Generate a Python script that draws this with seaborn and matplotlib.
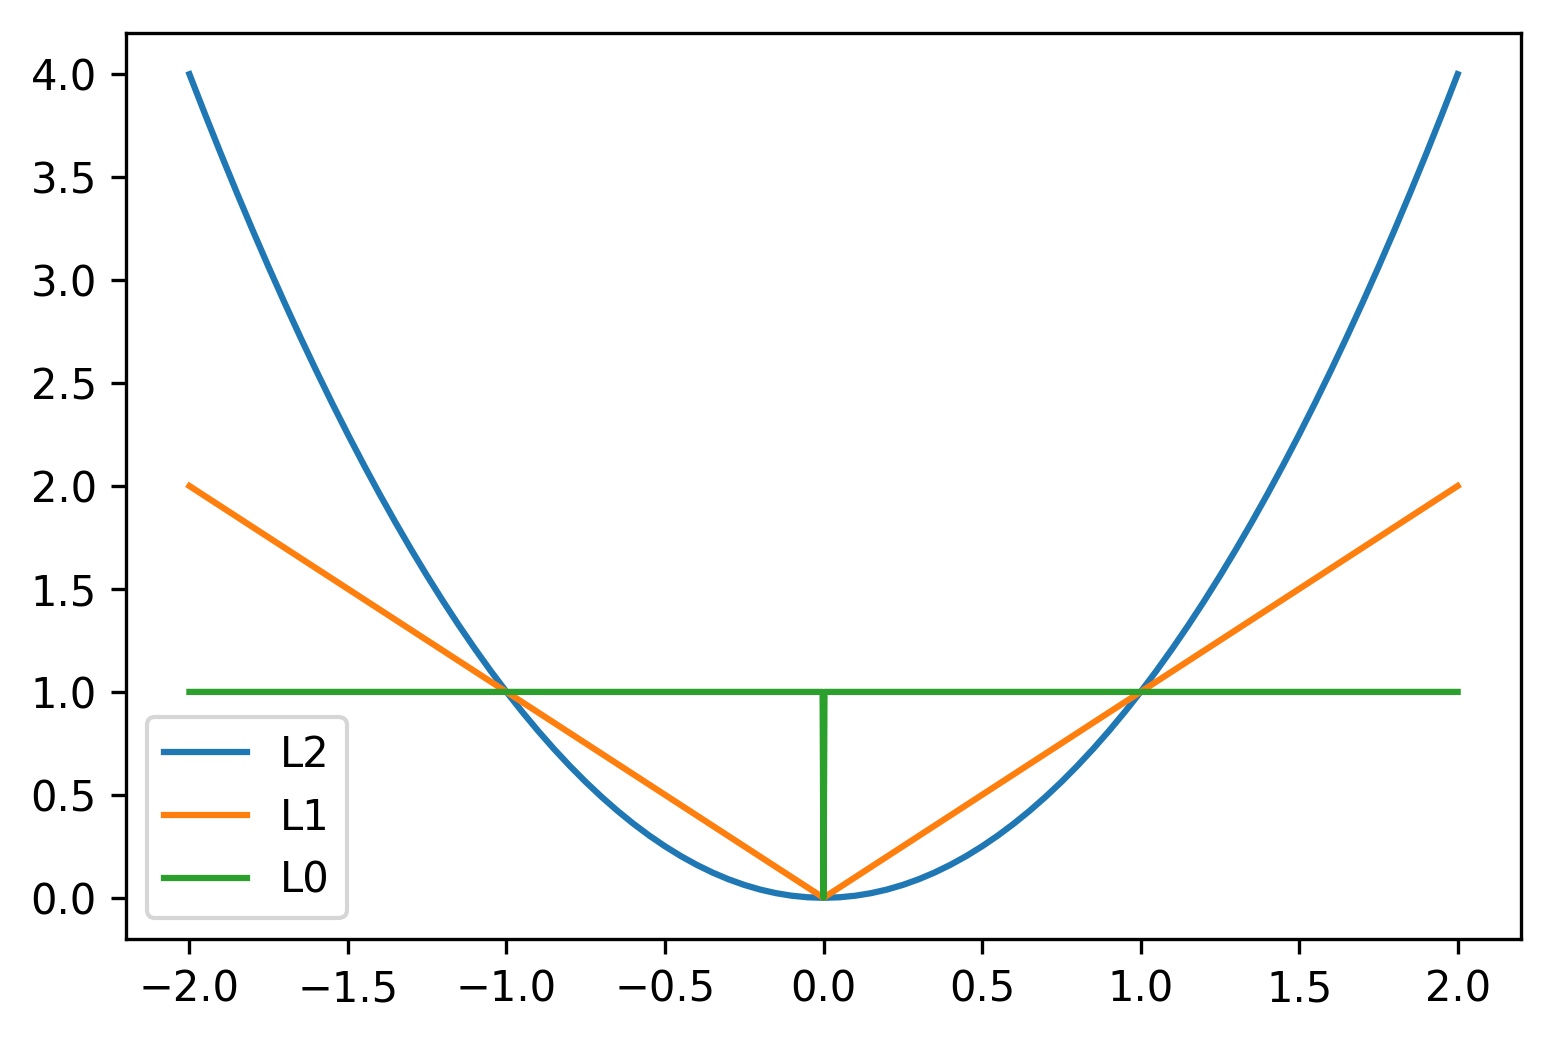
import matplotlib
matplotlib.use('Agg')
import matplotlib.pyplot as plt
import seaborn as sns

# values
x_l2 = [-2.0, -1.95, -1.9, -1.85, -1.8, -1.75, -1.7, -1.65, -1.6, -1.55, -1.5,
        -1.45, -1.4, -1.35, -1.3, -1.25, -1.2, -1.15, -1.1, -1.05, -1.0,
        -0.95, -0.9, -0.85, -0.8, -0.75, -0.7, -0.65, -0.6, -0.55, -0.5,
        -0.45, -0.4, -0.35, -0.3, -0.25, -0.2, -0.15, -0.1, -0.05, 0.0,
        0.05, 0.1, 0.15, 0.2, 0.25, 0.3, 0.35, 0.4, 0.45, 0.5,
        0.55, 0.6, 0.65, 0.7, 0.75, 0.8, 0.85, 0.9, 0.95, 1.0,
        1.05, 1.1, 1.15, 1.2, 1.25, 1.3, 1.35, 1.4, 1.45, 1.5,
        1.55, 1.6, 1.65, 1.7, 1.75, 1.8, 1.85, 1.9, 1.95, 2.0]
y_l2 = [4.0, 3.8025, 3.61, 3.4225, 3.24, 3.0625, 2.89, 2.7225, 2.56, 2.4025, 2.25,
        2.1025, 1.96, 1.8225, 1.69, 1.5625, 1.44, 1.3225, 1.21, 1.1025, 1.0,
        0.9025, 0.81, 0.7225, 0.64, 0.5625, 0.49, 0.4225, 0.36, 0.3025, 0.25,
        0.2025, 0.16, 0.1225, 0.09, 0.0625, 0.04, 0.0225, 0.01, 0.0025, 0.0,
        0.0025, 0.01, 0.0225, 0.04, 0.0625, 0.09, 0.1225, 0.16, 0.2025, 0.25,
        0.3025, 0.36, 0.4225, 0.49, 0.5625, 0.64, 0.7225, 0.81, 0.9025, 1.0,
        1.1025, 1.21, 1.3225, 1.44, 1.5625, 1.69, 1.8225, 1.96, 2.1025, 2.25,
        2.4025, 2.56, 2.7225, 2.89, 3.0625, 3.24, 3.4225, 3.61, 3.8025, 4.0]

x_l1 = [-2.0, 0.0, 2.0]
y_l1 = [2.0, 0.0, 2.0]

x_l0 = [-2.0, -0.003, 0.0, 0.003, 2.0]
y_l0 = [1.0, 1.0, 0.0, 1.0, 1.0]

sns.set_style('ticks')
plt.rcParams['font.family'] = ['DejaVu Sans']
plt.rcParams['text.color'] = 'black'
plt.rcParams['xtick.color'] = 'black'
plt.rcParams['ytick.color'] = 'black'

fig = plt.figure(figsize=(5.18, 3.46), dpi=300)
ax = fig.add_axes([0.0811, 0.0954, 0.8977, 0.8728])

palette = sns.color_palette('tab10')
sns.lineplot(x=x_l2, y=y_l2, ax=ax, color=palette[0], linewidth=1.5, label='L2',
             sort=False, solid_capstyle='projecting')
sns.lineplot(x=x_l1, y=y_l1, ax=ax, color=palette[1], linewidth=1.5, label='L1',
             sort=False, solid_capstyle='projecting')
sns.lineplot(x=x_l0, y=y_l0, ax=ax, color=palette[2], linewidth=1.5, label='L0',
             sort=False, solid_capstyle='projecting')

ax.set_xlim(-2.2, 2.2)
ax.set_ylim(-0.2, 4.2)
ax.set_xticks([-2.0, -1.5, -1.0, -0.5, 0.0, 0.5, 1.0, 1.5, 2.0])
ax.set_xticklabels(['\u22122.0', '\u22121.5', '\u22121.0', '\u22120.5', '0.0', '0.5', '1.0', '1.5', '2.0'])
ax.set_yticks([0.0, 0.5, 1.0, 1.5, 2.0, 2.5, 3.0, 3.5, 4.0])
ax.set_yticklabels(['0.0', '0.5', '1.0', '1.5', '2.0', '2.5', '3.0', '3.5', '4.0'])
ax.tick_params(labelsize=10, length=3.5, width=0.8, direction='out', colors='black')
for s in ax.spines.values():
    s.set_visible(True)
    s.set_linewidth(0.8)
    s.set_color('black')
leg = ax.legend(loc='lower left', fontsize=10, fancybox=True, framealpha=0.8)
leg.get_frame().set_edgecolor('0.8')

fig.savefig('out.png', dpi=300)
